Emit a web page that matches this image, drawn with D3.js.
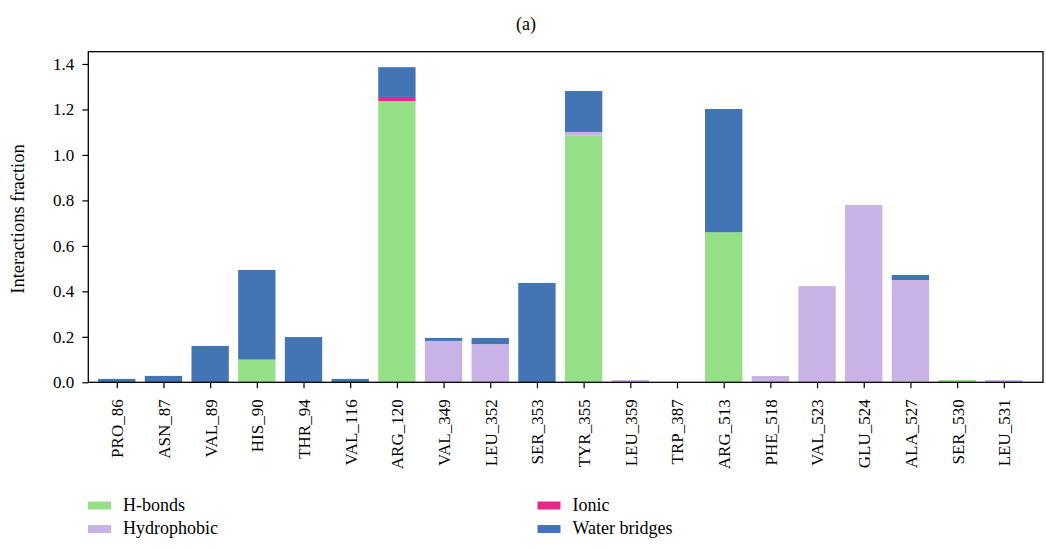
<!DOCTYPE html>
<html>
<head>
<meta charset="utf-8">
<script src="https://cdn.jsdelivr.net/npm/d3@7"></script>
<style>
  body { margin: 0; background: #fff; }
  svg { display: block; }
  text { font-family: "Liberation Serif", "Times New Roman", serif; fill: #000; }
</style>
</head>
<body>
<svg id="chart" width="1046" height="550"></svg>
<script>
// Residues and the fraction of simulation time each interaction type is present
const residues = ["PRO_86","ASN_87","VAL_89","HIS_90","THR_94","VAL_116","ARG_120","VAL_349","LEU_352","SER_353",
                  "TYR_355","LEU_359","TRP_387","ARG_513","PHE_518","VAL_523","GLU_524","ALA_527","SER_530","LEU_531"];
const hBonds       = [0, 0, 0, 0.10, 0, 0, 1.237, 0, 0, 0, 1.085, 0, 0, 0.66, 0, 0, 0, 0.004, 0.010, 0];
const hydrophobic  = [0, 0, 0, 0, 0, 0, 0, 0.182, 0.168, 0, 0.016, 0.010, 0, 0, 0.028, 0.423, 0.78, 0.446, 0, 0.010];
const ionic        = [0, 0, 0, 0, 0, 0, 0.018, 0, 0, 0, 0, 0, 0, 0, 0, 0, 0, 0, 0, 0];
const waterBridges = [0.015, 0.028, 0.16, 0.394, 0.199, 0.015, 0.131, 0.013, 0.027, 0.437, 0.18, 0, 0, 0.542, 0, 0, 0, 0.022, 0, 0];
const seriesNames  = ["H-bonds", "Hydrophobic", "Ionic", "Water bridges"];
const seriesColors = ["#95e086", "#c9b3e6", "#e5288a", "#4374b4"];
const yTicks = [0, 0.2, 0.4, 0.6, 0.8, 1.0, 1.2, 1.4];

(function drawChart() {
  const rows = residues.map((r, i) => ({
    residue: r, index: i,
    "H-bonds": hBonds[i], "Hydrophobic": hydrophobic[i], "Ionic": ionic[i], "Water bridges": waterBridges[i]
  }));
  const stacked = d3.stack().keys(seriesNames)(rows);

  const svg = d3.select("#chart");
  const plotLeft = 88.3, plotRight = 1043, plotTop = 51.7, plotBottom = 382.3;

  const x = d3.scaleLinear().domain([-0.61, 19.84]).range([plotLeft, plotRight]);
  const y = d3.scaleLinear().domain([0, 1.454]).range([plotBottom, plotTop]);
  const barW = x(0.8) - x(0);

  // Stacked bars
  svg.append("g").selectAll("g")
    .data(stacked).join("g")
      .attr("fill", (d, i) => seriesColors[i])
    .selectAll("rect")
    .data(d => d).join("rect")
      .attr("x", d => x(d.data.index) - barW / 2)
      .attr("width", barW)
      .attr("y", d => y(d[1]))
      .attr("height", d => Math.max(0, y(d[0]) - y(d[1])));

  // Frame
  svg.append("rect")
    .attr("x", plotLeft).attr("y", plotTop)
    .attr("width", plotRight - plotLeft).attr("height", plotBottom - plotTop)
    .attr("fill", "none").attr("stroke", "#000").attr("stroke-width", 1.3);

  // Y axis
  const yAxis = svg.append("g")
    .attr("transform", `translate(${plotLeft},0)`)
    .call(d3.axisLeft(y).tickValues(yTicks).tickFormat(d3.format(".1f")).tickSize(6).tickPadding(8));
  yAxis.select(".domain").remove();
  yAxis.selectAll("line").attr("stroke", "#000").attr("stroke-width", 1.2);
  yAxis.selectAll("text").style("font-size", "17px").style("font-family", "Liberation Serif, serif");

  // X axis with rotated residue labels
  const xAxis = svg.append("g")
    .attr("transform", `translate(0,${plotBottom})`)
    .call(d3.axisBottom(x).tickValues(d3.range(residues.length)).tickFormat(i => residues[i]).tickSize(6).tickPadding(6));
  xAxis.select(".domain").remove();
  xAxis.selectAll("line").attr("stroke", "#000").attr("stroke-width", 1.2);
  xAxis.selectAll("text")
    .style("font-size", "17px").style("font-family", "Liberation Serif, serif")
    .attr("text-anchor", "end")
    .attr("transform", "rotate(-90)")
    .attr("x", -17).attr("y", 0).attr("dy", "0.35em");

  // Axis title
  svg.append("text")
    .attr("transform", `translate(24,${(plotTop + plotBottom) / 2 + 2}) rotate(-90)`)
    .attr("text-anchor", "middle")
    .style("font-size", "18.5px")
    .text("Interactions fraction");

  // Panel title
  svg.append("text")
    .attr("x", 526).attr("y", 30)
    .attr("text-anchor", "middle")
    .style("font-size", "18px")
    .text("(a)");

  // Legend: two columns
  const legendPos = [[88, 505.5], [88, 529], [537.5, 505.5], [537.5, 529]];
  const legend = svg.append("g").selectAll("g")
    .data(seriesNames).join("g")
      .attr("transform", (d, i) => `translate(${legendPos[i][0]},${legendPos[i][1]})`);
  legend.append("rect")
    .attr("x", 0).attr("y", -4).attr("width", 23).attr("height", 8)
    .attr("fill", (d, i) => seriesColors[i]);
  legend.append("text")
    .attr("x", 35).attr("y", 5)
    .style("font-size", "18px")
    .text(d => d);
})();
</script>
</body>
</html>
